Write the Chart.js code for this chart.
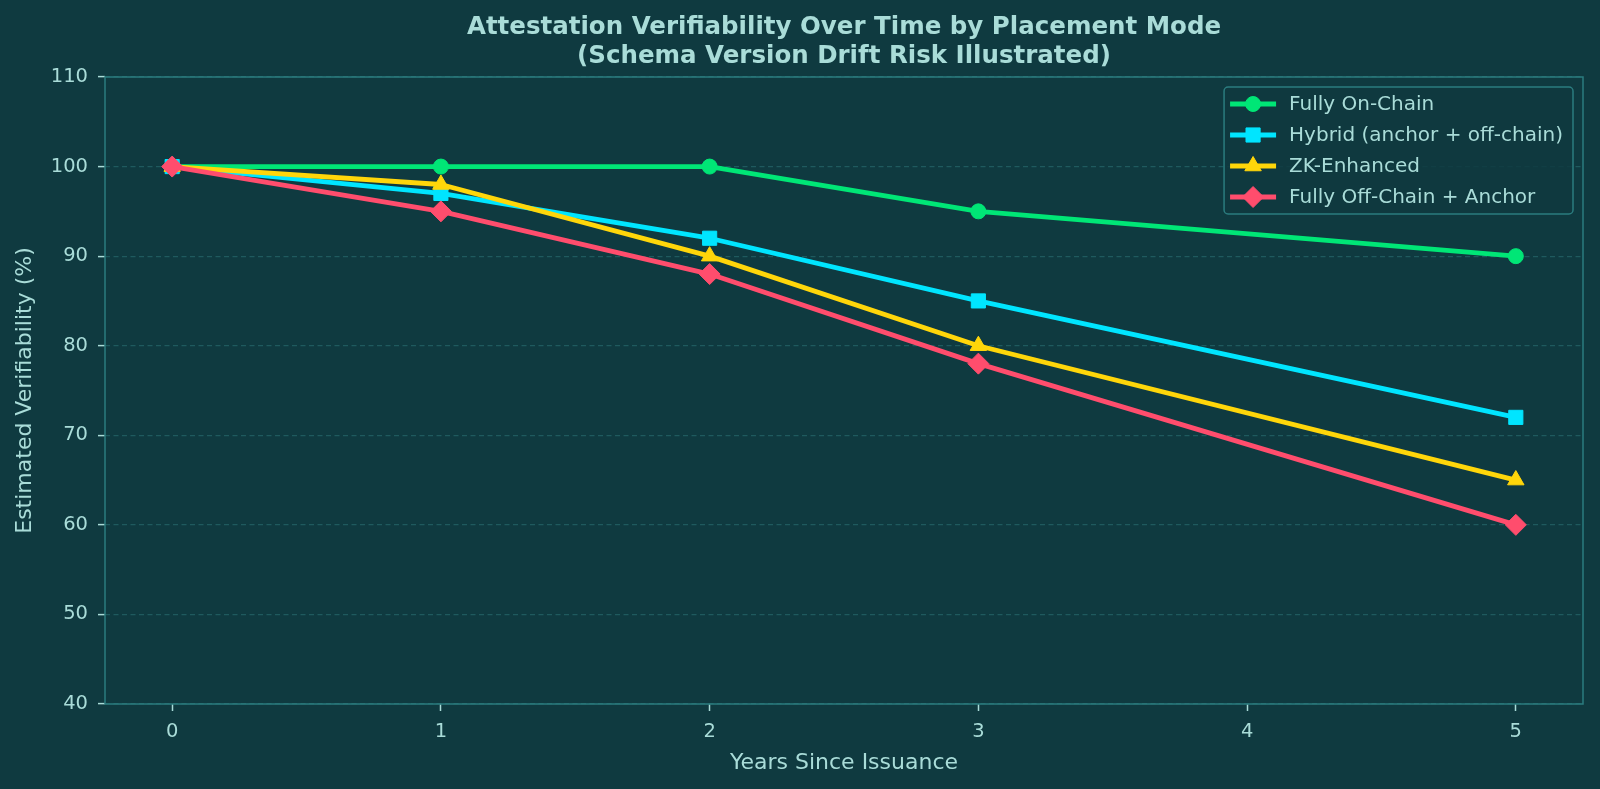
<!DOCTYPE html>
<html>
<head>
<meta charset="utf-8">
<script src="https://cdn.jsdelivr.net/npm/chart.js@4/dist/chart.umd.min.js"></script>
<style>
  html, body { margin: 0; padding: 0; background: #0f3a40; }
  #wrap { width: 1600px; height: 789px; }
</style>
</head>
<body>
<div id="wrap"><canvas id="chart" width="1600" height="789"></canvas></div>
<script>
'use strict';

// data
const years = [0, 1, 2, 3, 5];
const xTicks = [0, 1, 2, 3, 4, 5];
const yTicks = [40, 50, 60, 70, 80, 90, 100, 110];

const seriesNames = ['Fully On-Chain', 'Hybrid (anchor + off-chain)', 'ZK-Enhanced', 'Fully Off-Chain + Anchor'];
const onChain = [100, 100, 100, 95, 90];
const hybrid = [100, 97, 92, 85, 72];
const zkEnhanced = [100, 98, 90, 80, 65];
const offChain = [100, 95, 88, 78, 60];

const titleLines = ['Attestation Verifiability Over Time by Placement Mode', '(Schema Version Drift Risk Illustrated)'];
const xTitle = 'Years Since Issuance';
const yTitle = 'Estimated Verifiability (%)';

// styling
const BG = '#0f3a40';
const SPINE = '#2b7c7f';
const GRID = '#1f5a5e';
const TEXT = '#a9dcd8';
const FONT = '"DejaVu Sans"';
const colors = ['#00e676', '#00e5ff', '#ffd60a', '#ff4d6d'];
const markers = ['circle', 'rect', 'triangle', 'rectRot'];
const markerRadius = [7.5, 10, 9.5, 10.5];
const LINE_W = 4.8;

const allValues = [onChain, hybrid, zkEnhanced, offChain];

const datasets = allValues.map((vals, i) => ({
  label: seriesNames[i],
  data: years.map((x, j) => ({ x: x, y: vals[j] })),
  borderColor: colors[i],
  backgroundColor: colors[i],
  borderWidth: LINE_W,
  borderJoinStyle: 'round',
  pointStyle: markers[i],
  pointRadius: markerRadius[i],
  pointBorderWidth: 1,
  pointBorderColor: colors[i],
  pointBackgroundColor: colors[i],
  tension: 0,
  order: allValues.length - i
}));

const decorPlugin = {
  id: 'decor',
  beforeDraw(chart) {
    const ctx = chart.ctx;
    ctx.save();
    ctx.fillStyle = BG;
    ctx.fillRect(0, 0, chart.width, chart.height);
    ctx.restore();
  },
  afterDraw(chart) {
    const ctx = chart.ctx;
    const ca = chart.chartArea;
    ctx.save();

    // frame round the plot
    ctx.strokeStyle = SPINE;
    ctx.lineWidth = 1.5;
    ctx.strokeRect(ca.left, ca.top, ca.right - ca.left, ca.bottom - ca.top);

    // title, centred on the plot area
    ctx.fillStyle = TEXT;
    ctx.font = 'bold 24.5px ' + FONT;
    ctx.textAlign = 'center';
    ctx.textBaseline = 'middle';
    const cx = (ca.left + ca.right) / 2;
    titleLines.forEach((t, i) => ctx.fillText(t, cx, 28 + i * 29));

    // legend in the upper right corner
    ctx.font = '20px ' + FONT;
    const maxW = Math.max(...seriesNames.map(n => ctx.measureText(n).width));
    const boxW = 65 + maxW + 10;
    const boxH = 127;
    const bx = ca.right - 10 - boxW;
    const by = ca.top + 10;
    ctx.beginPath();
    ctx.roundRect(bx, by, boxW, boxH, 4);
    ctx.fillStyle = 'rgba(15,58,64,0.85)';
    ctx.fill();
    ctx.strokeStyle = SPINE;
    ctx.lineWidth = 1.5;
    ctx.stroke();

    seriesNames.forEach((name, i) => {
      const y = by + 17 + i * 31;
      ctx.strokeStyle = colors[i];
      ctx.lineWidth = LINE_W;
      ctx.lineCap = 'butt';
      ctx.beginPath();
      ctx.moveTo(bx + 6, y);
      ctx.lineTo(bx + 52, y);
      ctx.stroke();
      ctx.fillStyle = colors[i];
      ctx.lineWidth = 1;
      Chart.helpers.drawPoint(ctx, { pointStyle: markers[i], radius: markerRadius[i], borderWidth: 1, rotation: 0 }, bx + 29, y);
      ctx.fillStyle = TEXT;
      ctx.textAlign = 'left';
      ctx.textBaseline = 'middle';
      ctx.fillText(name, bx + 65, y + 1);
    });
    ctx.restore();
  }
};

const config = {
  type: 'line',
  data: { datasets: datasets },
  options: {
    responsive: false,
    animation: false,
    devicePixelRatio: 1,
    layout: { padding: { top: 77, right: 17, left: 0, bottom: 0 } },
    plugins: {
      legend: { display: false },
      title: { display: false },
      tooltip: { enabled: false }
    },
    scales: {
      x: {
        type: 'linear',
        min: -0.25,
        max: 5.25,
        afterBuildTicks: s => { s.ticks = xTicks.map(v => ({ value: v })); },
        afterFit: s => { s.height = 85; },
        grid: { drawOnChartArea: false, drawTicks: true, tickLength: 7, tickColor: TEXT, tickWidth: 1.5 },
        border: { display: false },
        ticks: { color: TEXT, font: { size: 19.5, family: FONT }, padding: 9, maxRotation: 0 },
        title: { display: true, text: xTitle, color: TEXT, font: { size: 22, family: FONT }, padding: { top: 4, bottom: 13 } }
      },
      y: {
        min: 40,
        max: 110,
        afterBuildTicks: s => { s.ticks = yTicks.map(v => ({ value: v })); },
        afterFit: s => { s.width = 105; },
        grid: { color: GRID, lineWidth: 1.2, drawTicks: true, tickLength: 7, tickColor: TEXT, tickWidth: 1.5, tickBorderDash: [] },
        border: { display: false, dash: [5, 3.5] },
        ticks: { color: TEXT, font: { size: 19.5, family: FONT }, padding: 10 },
        title: { display: true, text: yTitle, color: TEXT, font: { size: 22, family: FONT }, padding: { top: 12, bottom: 0 } }
      }
    }
  },
  plugins: [decorPlugin]
};

new Chart(document.getElementById('chart').getContext('2d'), config);
</script>
</body>
</html>
